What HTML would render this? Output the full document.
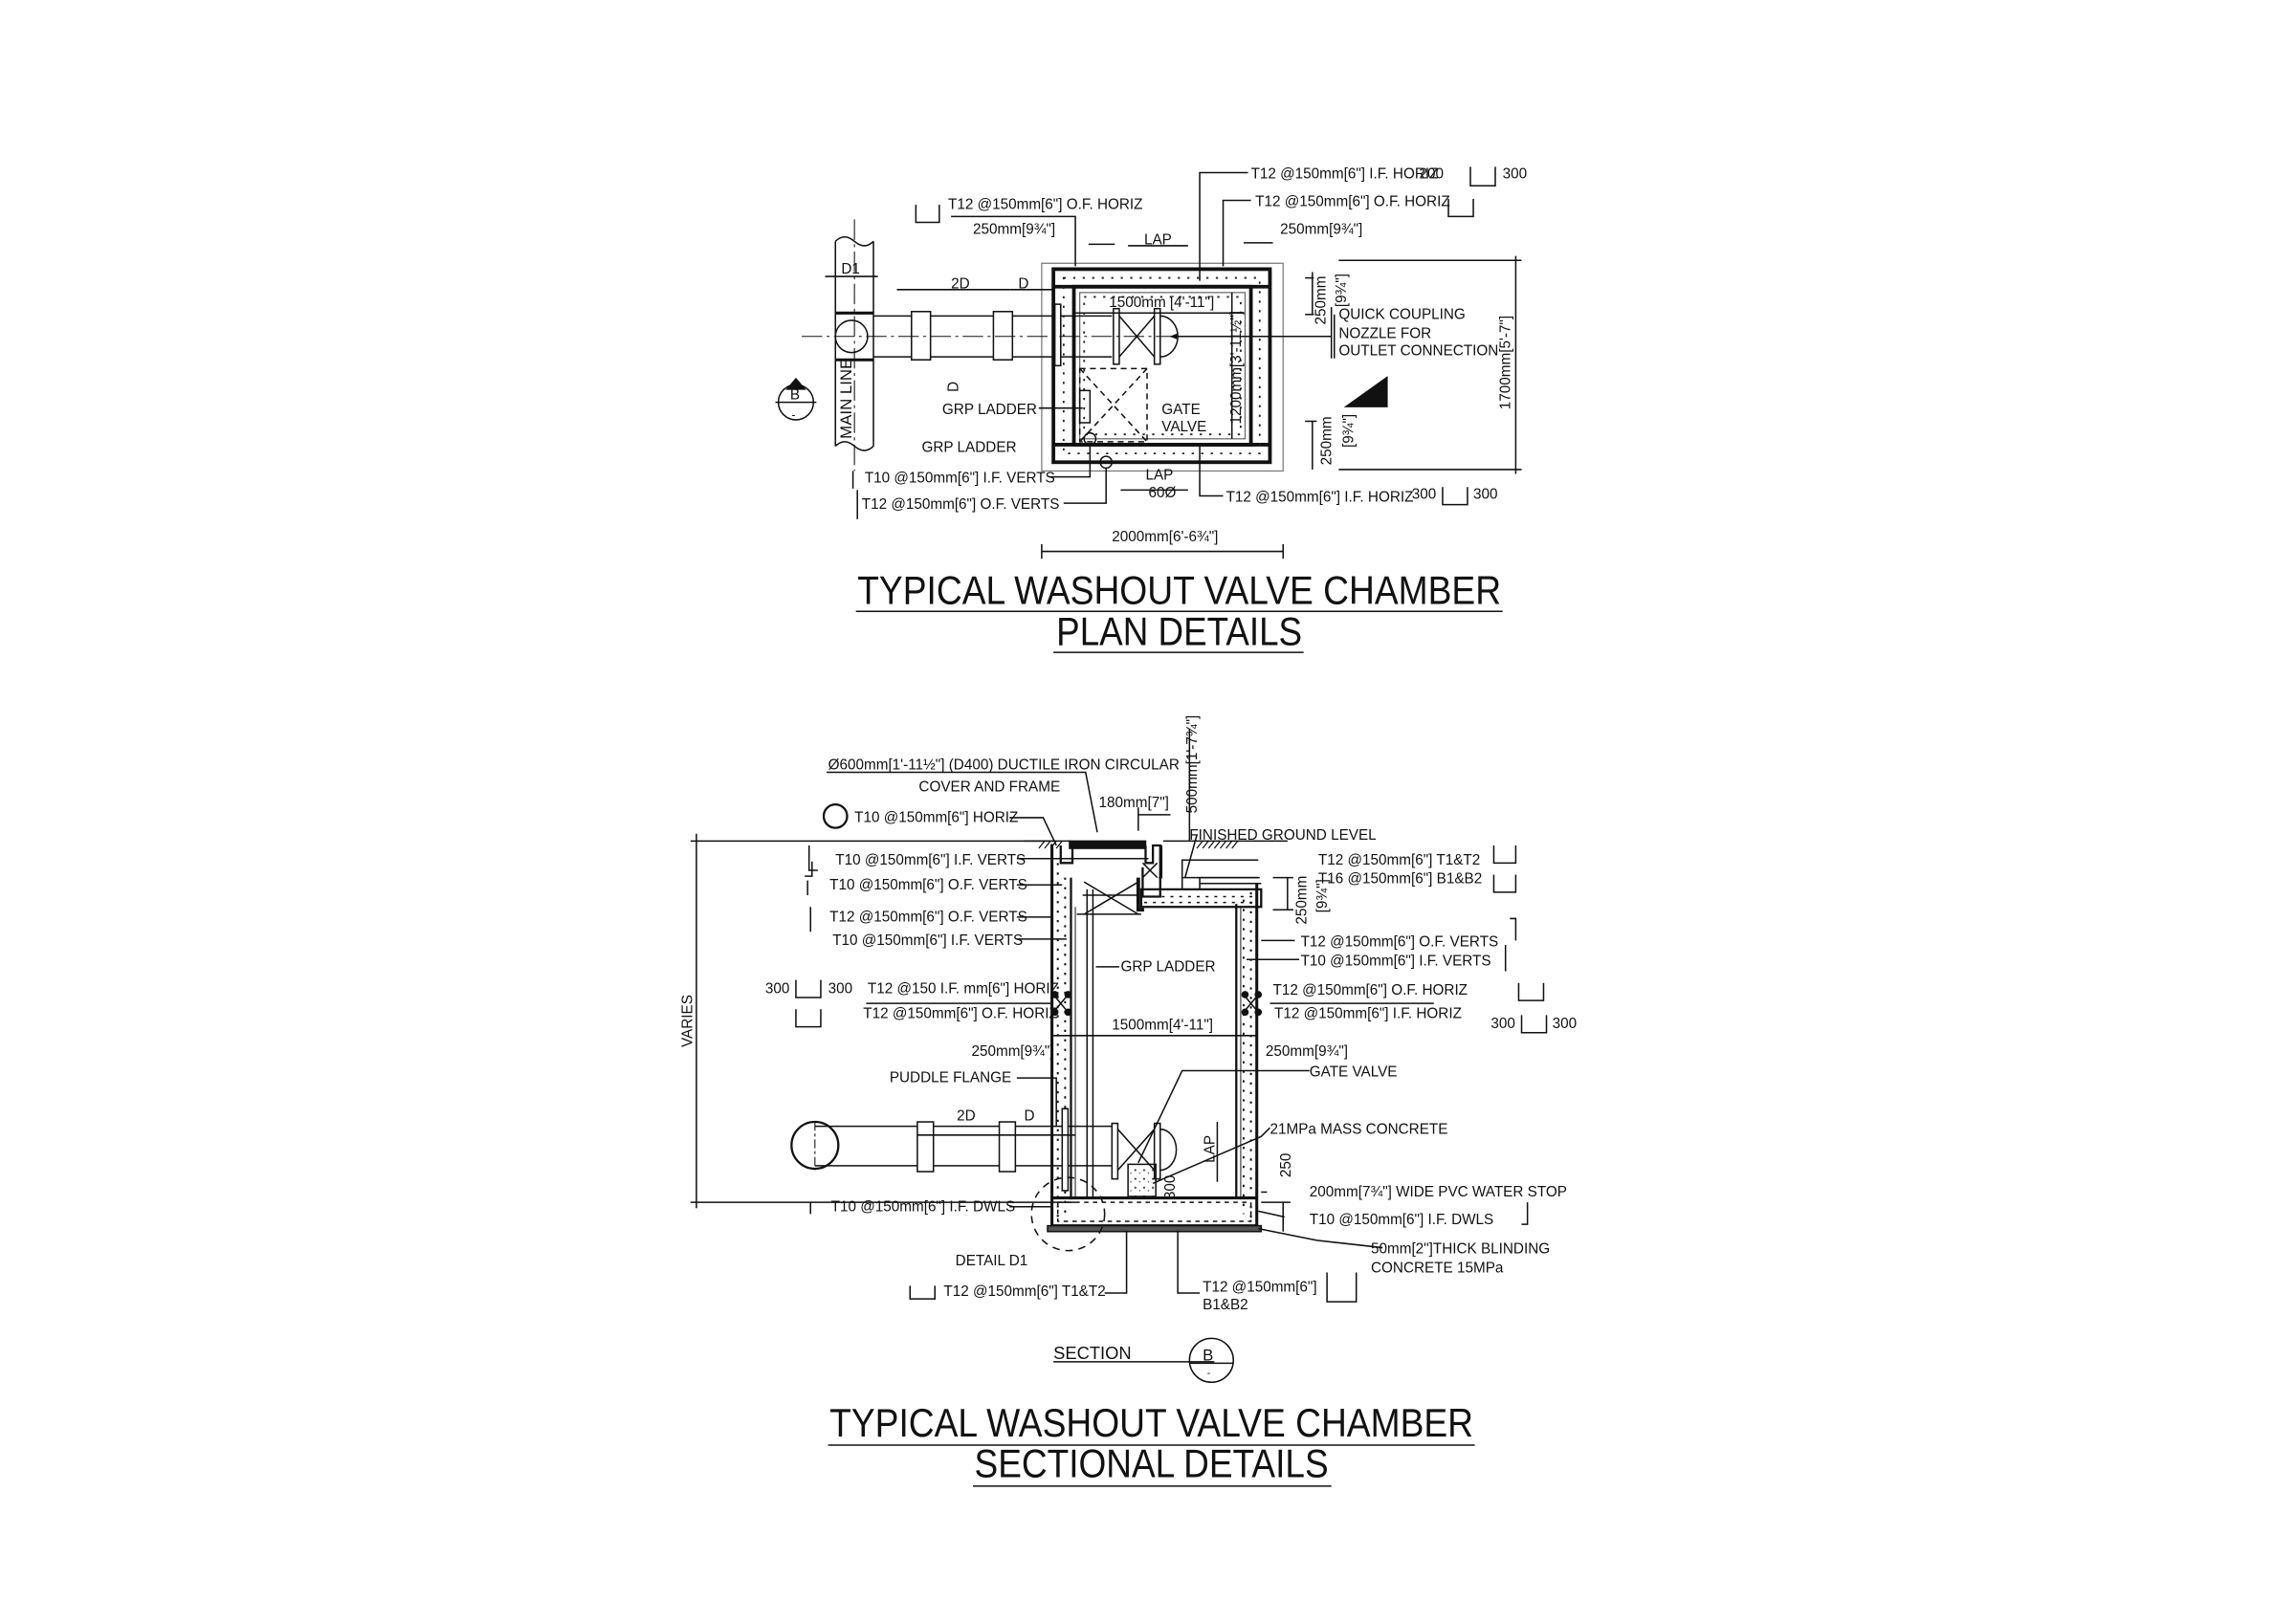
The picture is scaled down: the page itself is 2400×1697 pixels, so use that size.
<!DOCTYPE html>
<html><head><meta charset="utf-8"><style>
html,body{margin:0;padding:0;background:#fff;}
svg{display:block;}
text{font-family:"Liberation Sans",sans-serif;fill:#111;}
.s{font-size:10px;}
.t{font-size:27px;}
</style></head><body>
<svg width="2400" height="1697" viewBox="0 0 1569.3 1109.6" preserveAspectRatio="none" xmlns="http://www.w3.org/2000/svg">
<defs>
<marker id="a" viewBox="0 0 10 10" refX="9" refY="5" markerWidth="5" markerHeight="5" orient="auto"><path d="M0,1 L10,5 L0,9z" fill="#111"/></marker>
<pattern id="dots" width="6" height="6" patternUnits="userSpaceOnUse"><circle cx="2" cy="2" r="0.7" fill="#333"/><circle cx="5" cy="4" r="0.5" fill="#555"/></pattern>
</defs>
<g stroke="#111" fill="none" stroke-width="1">
<rect x="712" y="180" width="165" height="142" stroke="#777" stroke-width="0.8"/>
<rect x="720" y="184" width="148" height="132" stroke-width="2.5"/>
<rect x="734" y="196" width="121" height="108" stroke-width="2.5"/>
<rect x="738" y="200" width="113" height="100" stroke="#666" stroke-width="0.8"/>
<line x1="720" y1="196" x2="868" y2="196" stroke-width="2.5"/>
<line x1="720" y1="304" x2="868" y2="304" stroke-width="2.5"/>
<rect x="727" y="190" width="134" height="120" stroke="#222" stroke-width="1.2" stroke-dasharray="1.5 5"/>
<rect x="741" y="203" width="107" height="94" stroke="#222" stroke-width="1.2" stroke-dasharray="1.5 5"/>
<line x1="571" y1="165" x2="571" y2="305"/>
<line x1="597" y1="165" x2="597" y2="305"/>
<path d="M571,165 q6,-6 13,0 q7,6 13,0" />
<path d="M571,305 q6,-6 13,0 q7,6 13,0" />
<line x1="584" y1="150" x2="584" y2="322" stroke-dasharray="14 3 2 3" stroke-width="0.7"/>
<circle cx="582" cy="230" r="11"/>
<line x1="571" y1="214" x2="597" y2="214" stroke-width="2"/>
<line x1="571" y1="246" x2="597" y2="246" stroke-width="2"/>
<line x1="564" y1="189" x2="600" y2="189"/>
<line x1="597" y1="216" x2="760" y2="216"/>
<line x1="597" y1="244" x2="760" y2="244"/>
<rect x="623" y="213" width="13" height="33" fill="#fff"/>
<rect x="679" y="213" width="13" height="33" fill="#fff"/>
<rect x="721" y="208" width="4" height="42" fill="#fff"/>
<rect x="761" y="211" width="4" height="38" fill="#fff"/>
<rect x="789" y="211" width="4" height="38" fill="#fff"/>
<path d="M765,216 L789,244 M765,244 L789,216"/>
<path d="M793,216 a12,14 0 0 1 0,28"/>
<line x1="548" y1="230" x2="910" y2="230" stroke-dasharray="14 3 2 3" stroke-width="0.7"/>
<line x1="910" y1="230" x2="800" y2="230" marker-end="url(#a)"/>
<line x1="910" y1="210" x2="910" y2="245"/>
<rect x="738" y="252" width="46" height="50" stroke-dasharray="4 3"/>
<path d="M738,252 L784,302 M784,252 L738,302" stroke-dasharray="4 3"/>
<rect x="738" y="267" width="7" height="22"/>
<line x1="710" y1="279" x2="740" y2="279"/>
<circle cx="745" cy="300" r="4"/>
<circle cx="756" cy="316" r="4"/>
<polyline points="650,148 735,148 735,182"/>
<polyline points="853,118 820,118 820,192"/>
<polyline points="855,137 836,137 836,182"/>
<polyline points="836,339 820,339 820,305"/>
<polyline points="717,326 745,326 745,304"/>
<polyline points="727,344 756,344 756,320"/>
<path d="M626,140 v12 h16 v-12"/>
<path d="M1005,114 v13 h17 v-13"/>
<path d="M990,136 v12 h17 v-12"/>
<path d="M986,333 v12 h17 v-12"/>
<path d="M583,322 v12 M586,335 v20"/>
<line x1="771" y1="168" x2="812" y2="168"/>
<line x1="850" y1="166" x2="870" y2="166"/>
<line x1="766" y1="335" x2="812" y2="335"/>
<line x1="744" y1="167" x2="762" y2="167"/>
<line x1="613" y1="198" x2="690" y2="198"/>
<line x1="690" y1="198" x2="720" y2="198"/>
<line x1="733" y1="214" x2="850" y2="214"/>
<line x1="842" y1="200" x2="842" y2="300"/>
<line x1="712" y1="377" x2="877" y2="377"/>
<line x1="712" y1="372" x2="712" y2="382"/><line x1="877" y1="372" x2="877" y2="382"/>
<line x1="915" y1="178" x2="1040" y2="178"/>
<line x1="915" y1="321" x2="1040" y2="321"/>
<line x1="1036" y1="175" x2="1036" y2="324"/>
<line x1="892" y1="190" x2="898" y2="190"/><line x1="897" y1="186" x2="897" y2="215"/>
<line x1="892" y1="215" x2="898" y2="215"/>
<line x1="897" y1="288" x2="897" y2="321"/><line x1="892" y1="288" x2="900" y2="288"/>
<line x1="912" y1="215" x2="912" y2="245"/>
<path d="M920,278 h28 v-20 z" fill="#111"/>
<circle cx="544" cy="275" r="12"/>
<line x1="530" y1="275" x2="558" y2="275"/>
<path d="M538,266 l6,-7 l6,7z" fill="#111"/>
<line x1="700" y1="575" x2="732" y2="575"/>
<line x1="795" y1="575" x2="880" y2="575"/>
<path d="M710,580 l4,-5 M714,580 l4,-5 M718,580 l4,-5 M722,580 l4,-5 M818,580 l4,-5 M822,580 l4,-5 M826,580 l4,-5 M830,580 l4,-5 M834,580 l4,-5 M838,580 l4,-5 M842,580 l4,-5" stroke-width="0.8"/>
<line x1="719" y1="577" x2="719" y2="838" stroke-width="2"/>
<line x1="732" y1="600" x2="732" y2="820" stroke-width="1.5"/>
<line x1="735" y1="620" x2="735" y2="820" stroke="#666"/>
<line x1="845" y1="618" x2="845" y2="818" stroke-width="1.5"/>
<line x1="848" y1="620" x2="848" y2="820" stroke="#666"/>
<line x1="859" y1="604" x2="859" y2="838" stroke-width="2"/>
<line x1="723" y1="590" x2="723" y2="835" stroke-dasharray="1.5 5" stroke-width="1.3"/>
<line x1="728" y1="600" x2="728" y2="830" stroke-dasharray="1.5 5" stroke-width="1.3"/>
<line x1="850" y1="615" x2="850" y2="830" stroke-dasharray="1.5 5" stroke-width="1.3"/>
<line x1="855" y1="610" x2="855" y2="835" stroke-dasharray="1.5 5" stroke-width="1.3"/>
<rect x="731" y="575" width="52" height="5" fill="#111"/>
<path d="M725,578 v12 h8 v-12 M783,578 v12 h5 v-12 h5 v35 h-12 v-20" stroke-width="1.5"/>
<path d="M794,578 v22 h-2" />
<path d="M778,600 v22 h4" stroke-width="2.5"/>
<path d="M781,590 l10,10 M791,590 l-10,10" />
<path d="M780,608 h82 v12 h-82 z" stroke-width="1.5"/>
<path d="M782,613 h78 M782,617 h78" stroke-dasharray="2 4"/>
<path d="M808,600 h53 M820,604 h42" />
<line x1="740" y1="612" x2="778" y2="612"/>
<path d="M741,603 L778,625 M778,603 L741,625" />
<line x1="736" y1="625" x2="780" y2="625"/>
<line x1="743" y1="608" x2="743" y2="818"/>
<line x1="747" y1="608" x2="747" y2="818"/>
<path d="M720,680 l10,12 M730,680 l-10,12 M850,680 l10,12 M860,680 l-10,12" />
<circle cx="721" cy="680" r="2" fill="#111"/><circle cx="730" cy="680" r="2" fill="#111"/>
<circle cx="721" cy="692" r="2" fill="#111"/><circle cx="730" cy="692" r="2" fill="#111"/>
<circle cx="851" cy="680" r="2" fill="#111"/><circle cx="860" cy="680" r="2" fill="#111"/>
<circle cx="851" cy="692" r="2" fill="#111"/><circle cx="860" cy="692" r="2" fill="#111"/>
<line x1="719" y1="819" x2="859" y2="819" stroke-width="2"/>
<line x1="719" y1="838" x2="859" y2="838" stroke-width="2"/>
<rect x="723" y="822" width="132" height="13" stroke-dasharray="3 3"/>
<rect x="716" y="838" width="146" height="4" fill="#555"/>
<circle cx="557" cy="783" r="16" stroke-width="1.5"/>
<line x1="557" y1="767" x2="557" y2="800" stroke-dasharray="6 2 2 2" stroke-width="0.7"/>
<line x1="557" y1="770" x2="760" y2="770"/>
<line x1="557" y1="797" x2="760" y2="797"/>
<rect x="627" y="767" width="11" height="34" fill="#fff"/>
<rect x="683" y="767" width="11" height="34" fill="#fff"/>
<rect x="726" y="758" width="4" height="56" fill="#fff"/>
<rect x="760" y="768" width="4" height="38" fill="#fff"/>
<rect x="789" y="768" width="4" height="38" fill="#fff"/>
<path d="M764,772 L789,800 M764,800 L789,772"/>
<path d="M793,772 a11,14 0 0 1 0,28"/>
<rect x="771" y="796" width="19" height="22" fill="url(#dots)"/>
<circle cx="730" cy="830" r="25" stroke-dasharray="5 4"/>
<line x1="472" y1="575" x2="720" y2="575"/>
<line x1="472" y1="822" x2="735" y2="822"/>
<line x1="476" y1="570" x2="476" y2="826"/>
<line x1="813" y1="498" x2="813" y2="575"/>
<line x1="778" y1="557" x2="800" y2="557"/>
<line x1="778" y1="552" x2="778" y2="568"/>
<line x1="880" y1="600" x2="880" y2="622"/>
<line x1="870" y1="600" x2="884" y2="600"/><line x1="870" y1="622" x2="884" y2="622"/>
<line x1="720" y1="708" x2="859" y2="708"/>
<line x1="627" y1="776" x2="735" y2="776"/>
<line x1="832" y1="767" x2="832" y2="808"/>
<line x1="877" y1="822" x2="877" y2="842"/>
<line x1="862" y1="822" x2="882" y2="822"/>
<polyline points="565,528 742,528 750,569"/>
<polyline points="690,559 713,559 722,578"/>
<polyline points="818,571 810,600"/>
<polyline points="695,587 785,587"/>
<polyline points="695,605 726,605" />
<polyline points="695,627 719,627"/>
<polyline points="695,642 729,642"/>
<polyline points="860,588 808,588 808,608"/>
<polyline points="860,600 820,600 820,608"/>
<polyline points="885,643 862,643"/>
<polyline points="888,656 852,656"/>
<polyline points="765,661 749,661"/>
<polyline points="592,686 718,686"/>
<polyline points="868,686 980,686"/>
<polyline points="695,737 722,737 722,770"/>
<polyline points="895,732 808,732 778,795"/>
<polyline points="868,771 862,777 788,809"/>
<polyline points="866,815 862,815"/>
<polyline points="878,832 860,828"/>
<polyline points="945,853 900,848 860,840"/>
<polyline points="690,825 719,825"/>
<polyline points="755,884 770,884 770,842"/>
<polyline points="820,884 805,884 805,842"/>
<circle cx="571" cy="558" r="8" stroke-width="1.5"/>
<path d="M553,578 v17 h6 M550,599 h5 v-10 M552,612 v-10 M554,620 v17 M544,670 v12 h17 v-12 M544,690 v12 h17 v-12 M1021,578 v12 h15 v-12 M1021,598 v12 h15 v-12 M1032,628 h4 v15 M1029,646 v18 M1038,672 v12 h17 v-12 M1040,694 v12 h17 v-12 M1044,822 v15 h-4 M554,822 v8 M622,879 v9 h17 v-9 M907,870 v20 h20 v-20"/>
<line x1="720" y1="931" x2="830" y2="931"/>
<circle cx="828" cy="930" r="15"/>
<line x1="813" y1="932" x2="843" y2="932"/>
<line x1="585" y1="418" x2="1027" y2="418"/>
<line x1="720" y1="446" x2="891" y2="446"/>
<line x1="566" y1="988" x2="1008" y2="988"/>
<line x1="665" y1="1016" x2="910" y2="1016"/>
</g>
<g class="s">
<text x="648" y="143">T12 @150mm[6"] O.F. HORIZ</text>
<text x="665" y="160">250mm[9¾"]</text>
<text x="855" y="122">T12 @150mm[6"] I.F. HORIZ</text>
<text x="970" y="122">200</text>
<text x="1027" y="122">300</text>
<text x="858" y="141">T12 @150mm[6"] O.F. HORIZ</text>
<text x="875" y="160">250mm[9¾"]</text>
<text x="782" y="167">LAP</text>
<text x="575" y="187">D1</text>
<text x="650" y="197">2D</text>
<text x="696" y="197">D</text>
<text x="758" y="210">1500mm [4'-11"]</text>
<text x="915" y="218">QUICK COUPLING</text>
<text x="915" y="231">NOZZLE FOR</text>
<text x="915" y="243">OUTLET CONNECTION</text>
<text x="644" y="283">GRP LADDER</text>
<text x="794" y="283">GATE</text>
<text x="794" y="295">VALVE</text>
<text x="630" y="309">GRP LADDER</text>
<text x="591" y="330">T10 @150mm[6"] I.F. VERTS</text>
<text x="589" y="348">T12 @150mm[6"] O.F. VERTS</text>
<text x="783" y="328">LAP</text>
<text x="785" y="340">60Ø</text>
<text x="838" y="343">T12 @150mm[6"] I.F. HORIZ</text>
<text x="965" y="341">300</text>
<text x="1007" y="341">300</text>
<text x="760" y="370">2000mm[6'-6¾"]</text>
<text x="540" y="273" font-size="10">B</text>
<text x="541" y="286" font-size="8">-</text>
<text transform="translate(582,300) rotate(-90)" font-size="11">MAIN LINE</text>
<text transform="translate(655,268) rotate(-90)">D</text>
<text transform="translate(848,290) rotate(-90)">1200mm[3'-11½"]</text>
<text transform="translate(906,222) rotate(-90)">250mm</text>
<text transform="translate(920,210) rotate(-90)">[9¾"]</text>
<text transform="translate(910,318) rotate(-90)">250mm</text>
<text transform="translate(925,306) rotate(-90)">[9¾"]</text>
<text transform="translate(1032,280) rotate(-90)">1700mm[5'-7"]</text>
<text x="566" y="526">Ø600mm[1'-11½"] (D400) DUCTILE IRON CIRCULAR</text>
<text x="628" y="541">COVER AND FRAME</text>
<text x="751" y="552">180mm[7"]</text>
<text transform="translate(818,556) rotate(-90)">500mm[1'-7¾"]</text>
<text x="584" y="562">T10 @150mm[6"] HORIZ</text>
<text x="813" y="574">FINISHED GROUND LEVEL</text>
<text x="571" y="591">T10 @150mm[6"] I.F. VERTS</text>
<text x="567" y="608">T10 @150mm[6"] O.F. VERTS</text>
<text x="567" y="630">T12 @150mm[6"] O.F. VERTS</text>
<text x="569" y="646">T10 @150mm[6"]  I.F. VERTS</text>
<text x="901" y="591">T12 @150mm[6"]  T1&amp;T2</text>
<text x="901" y="604">T16 @150mm[6"]  B1&amp;B2</text>
<text transform="translate(893,632) rotate(-90)">250mm</text>
<text transform="translate(907,624) rotate(-90)">[9¾"]</text>
<text x="889" y="647">T12 @150mm[6"]  O.F. VERTS</text>
<text x="889" y="660">T10 @150mm[6"]  I.F. VERTS</text>
<text x="766" y="664">GRP LADDER</text>
<text x="523" y="679">300</text>
<text x="566" y="679">300</text>
<text x="593" y="679">T12 @150 I.F. mm[6"] HORIZ</text>
<text x="590" y="696">T12 @150mm[6"]  O.F. HORIZ</text>
<text x="870" y="680">T12 @150mm[6"]  O.F. HORIZ</text>
<text x="871" y="696">T12 @150mm[6"]  I.F. HORIZ</text>
<text x="1019" y="703">300</text>
<text x="1061" y="703">300</text>
<text x="760" y="704">1500mm[4'-11"]</text>
<text x="664" y="722">250mm[9¾"]</text>
<text x="865" y="722">250mm[9¾"]</text>
<text x="608" y="740">PUDDLE FLANGE</text>
<text x="895" y="736">GATE VALVE</text>
<text x="654" y="766">2D</text>
<text x="700" y="766">D</text>
<text x="868" y="775">21MPa MASS CONCRETE</text>
<text transform="translate(830,795) rotate(-90)">LAP</text>
<text transform="translate(882,805) rotate(-90)">250</text>
<text transform="translate(803,820) rotate(-90)">300</text>
<text x="895" y="818">200mm[7¾"] WIDE PVC WATER STOP</text>
<text x="568" y="828">T10 @150mm[6"]  I.F. DWLS</text>
<text x="895" y="837">T10 @150mm[6"]  I.F. DWLS</text>
<text x="937" y="857">50mm[2"]THICK BLINDING</text>
<text x="937" y="870">CONCRETE 15MPa</text>
<text x="653" y="865">DETAIL D1</text>
<text x="645" y="886">T12 @150mm[6"]  T1&amp;T2</text>
<text x="822" y="883">T12 @150mm[6"]</text>
<text x="822" y="895">B1&amp;B2</text>
<text transform="translate(473,716) rotate(-90)">VARIES</text>
<text x="720" y="929" font-size="12">SECTION</text>
<text x="822" y="930" font-size="11">B</text>
<text x="825" y="941" font-size="7">-</text>
</g>
<g class="t">
<text x="806" y="413" text-anchor="middle" textLength="440" lengthAdjust="spacingAndGlyphs">TYPICAL WASHOUT VALVE CHAMBER</text>
<text x="806" y="441" text-anchor="middle" textLength="168" lengthAdjust="spacingAndGlyphs">PLAN DETAILS</text>
<text x="787" y="982" text-anchor="middle" textLength="440" lengthAdjust="spacingAndGlyphs">TYPICAL WASHOUT VALVE CHAMBER</text>
<text x="787" y="1010" text-anchor="middle" textLength="242" lengthAdjust="spacingAndGlyphs">SECTIONAL DETAILS</text>
</g>
</svg>
</body></html>
